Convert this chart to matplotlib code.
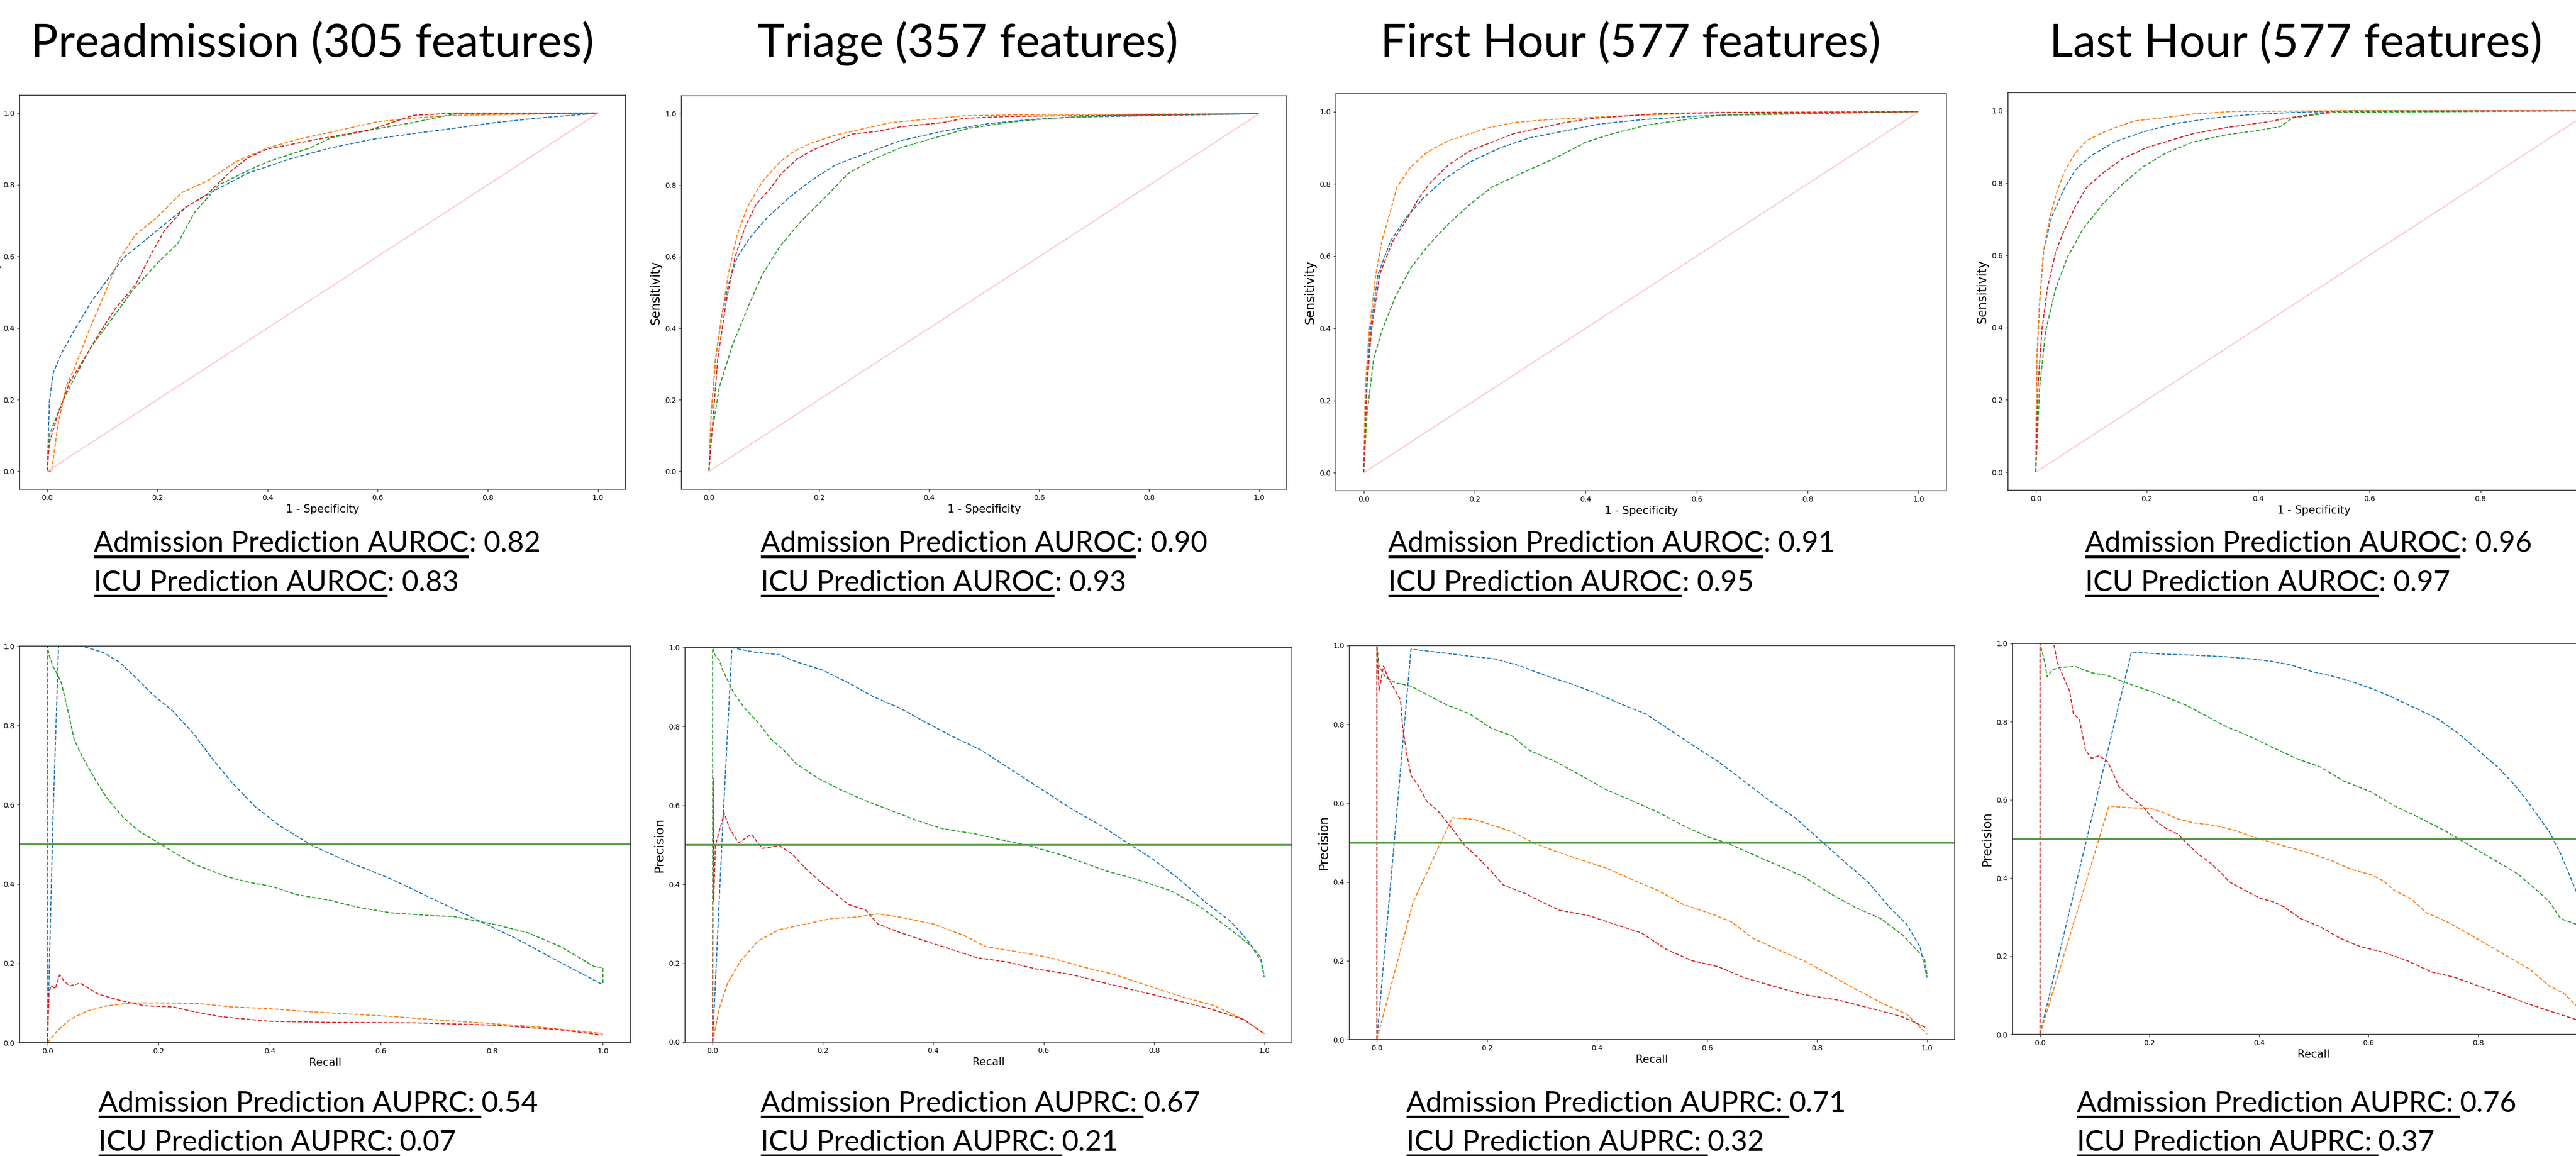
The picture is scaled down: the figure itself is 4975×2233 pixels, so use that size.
import matplotlib
matplotlib.use("Agg")
import matplotlib.pyplot as plt
from matplotlib.lines import Line2D

W, H = 4975, 2233

stages = ["Preadmission (305 features)", "Triage (357 features)",
          "First Hour (577 features)", "Last Hour (577 features)"]
auroc_adm = [0.82, 0.90, 0.91, 0.96]
auroc_icu = [0.83, 0.93, 0.95, 0.97]
auprc_adm = [0.54, 0.67, 0.71, 0.76]
auprc_icu = [0.07, 0.21, 0.32, 0.37]

# ---- ROC curves (1 - specificity, sensitivity) ----
pre_roc_adm_a = [(0, 0), (0.004, 0.196), (0.011, 0.275), (0.026, 0.33), (0.049, 0.393), (0.079, 0.471),
                 (0.109, 0.534), (0.139, 0.597), (0.177, 0.644), (0.214, 0.691), (0.252, 0.738),
                 (0.305, 0.785), (0.365, 0.833), (0.44, 0.872), (0.515, 0.903), (0.59, 0.927),
                 (0.665, 0.943), (0.74, 0.958), (0.816, 0.974), (0.89, 0.986), (1, 1)]
pre_roc_icu_a = [(0, 0), (0.008, 0), (0.019, 0.126), (0.034, 0.236), (0.05, 0.29), (0.075, 0.39),
                 (0.1, 0.48), (0.13, 0.59), (0.16, 0.66), (0.2, 0.71), (0.244, 0.778), (0.29, 0.81),
                 (0.342, 0.864), (0.4, 0.903), (0.455, 0.927), (0.515, 0.947), (0.6, 0.976),
                 (0.665, 0.986), (0.74, 0.994), (1, 1)]
pre_roc_adm_b = [(0, 0), (0.004, 0.102), (0.026, 0.189), (0.049, 0.259), (0.079, 0.346), (0.109, 0.408),
                 (0.154, 0.503), (0.2, 0.581), (0.237, 0.636), (0.267, 0.722), (0.312, 0.8),
                 (0.365, 0.84), (0.4, 0.864), (0.477, 0.903), (0.515, 0.931), (0.59, 0.954),
                 (0.665, 0.974), (0.74, 0.998), (1, 1)]
pre_roc_icu_b = [(0, 0), (0.004, 0.08), (0.019, 0.157), (0.041, 0.25), (0.064, 0.306), (0.094, 0.384),
                 (0.124, 0.455), (0.16, 0.52), (0.19, 0.61), (0.214, 0.675), (0.252, 0.738),
                 (0.29, 0.773), (0.335, 0.84), (0.365, 0.876), (0.4, 0.9), (0.477, 0.923),
                 (0.59, 0.955), (0.665, 0.994), (0.74, 1.0), (1, 1)]

tri_roc_adm_a = [(0, 0), (0.004, 0.157), (0.012, 0.314), (0.023, 0.432), (0.035, 0.519), (0.051, 0.597),
                 (0.074, 0.652), (0.105, 0.708), (0.144, 0.763), (0.183, 0.81), (0.23, 0.857),
                 (0.284, 0.888), (0.347, 0.924), (0.425, 0.951), (0.503, 0.971), (0.58, 0.983),
                 (0.659, 0.99), (1, 1)]
tri_roc_icu_a = [(0, 0), (0.004, 0.157), (0.012, 0.314), (0.023, 0.432), (0.035, 0.55), (0.051, 0.66),
                 (0.07, 0.739), (0.097, 0.81), (0.129, 0.865), (0.152, 0.892), (0.183, 0.916),
                 (0.23, 0.94), (0.284, 0.959), (0.331, 0.975), (0.386, 0.983), (0.464, 0.994),
                 (0.58, 0.997), (1, 1)]
tri_roc_adm_b = [(0, 0), (0.004, 0.094), (0.019, 0.236), (0.043, 0.354), (0.074, 0.47), (0.097, 0.55),
                 (0.129, 0.629), (0.168, 0.7), (0.214, 0.77), (0.253, 0.833), (0.3, 0.873),
                 (0.347, 0.904), (0.409, 0.932), (0.472, 0.959), (0.542, 0.975), (0.62, 0.987),
                 (0.737, 0.995), (1, 1)]
tri_roc_icu_b = [(0, 0), (0.004, 0.079), (0.016, 0.314), (0.031, 0.47), (0.047, 0.597), (0.066, 0.684),
                 (0.086, 0.747), (0.109, 0.786), (0.132, 0.833), (0.16, 0.873), (0.191, 0.9),
                 (0.23, 0.924), (0.261, 0.943), (0.308, 0.951), (0.347, 0.963), (0.425, 0.975),
                 (0.464, 0.987), (0.542, 0.992), (1, 1)]

fh_roc_adm_a = [(0, 0), (0.005, 0.238), (0.012, 0.394), (0.026, 0.55), (0.049, 0.643), (0.076, 0.705),
                (0.107, 0.76), (0.146, 0.814), (0.192, 0.861), (0.246, 0.9), (0.3, 0.928),
                (0.363, 0.947), (0.425, 0.966), (0.502, 0.978), (0.603, 0.988), (0.719, 0.995), (1, 1)]
fh_roc_icu_a = [(0, 0), (0.003, 0.238), (0.01, 0.394), (0.022, 0.55), (0.033, 0.643), (0.049, 0.729),
                (0.06, 0.791), (0.084, 0.846), (0.115, 0.889), (0.153, 0.92), (0.192, 0.939),
                (0.223, 0.955), (0.27, 0.97), (0.332, 0.978), (0.409, 0.984), (0.486, 0.99),
                (0.641, 0.997), (1, 1)]
fh_roc_adm_b = [(0, 0), (0.006, 0.16), (0.018, 0.316), (0.033, 0.394), (0.057, 0.487), (0.084, 0.565),
                (0.115, 0.627), (0.153, 0.69), (0.192, 0.744), (0.231, 0.791), (0.285, 0.83),
                (0.347, 0.873), (0.401, 0.916), (0.448, 0.939), (0.51, 0.963), (0.579, 0.978),
                (0.641, 0.99), (1, 1)]
fh_roc_icu_b = [(0, 0), (0.006, 0.238), (0.014, 0.394), (0.029, 0.55), (0.053, 0.643), (0.076, 0.697),
                (0.099, 0.76), (0.122, 0.807), (0.153, 0.853), (0.192, 0.892), (0.231, 0.916),
                (0.27, 0.939), (0.316, 0.955), (0.363, 0.97), (0.409, 0.981), (0.533, 0.995),
                (0.641, 0.998), (1, 1)]

lh_roc_adm_a = [(0, 0), (0.002, 0.315), (0.007, 0.471), (0.014, 0.611), (0.028, 0.704), (0.05, 0.781),
                (0.071, 0.836), (0.099, 0.875), (0.142, 0.914), (0.192, 0.941), (0.249, 0.964),
                (0.32, 0.98), (0.391, 0.99), (0.462, 0.995), (0.568, 1.0), (1, 1)]
lh_roc_icu_a = [(0, 0), (0.002, 0.315), (0.007, 0.471), (0.014, 0.611), (0.025, 0.704), (0.039, 0.781),
                (0.053, 0.836), (0.071, 0.883), (0.092, 0.918), (0.128, 0.945), (0.178, 0.972),
                (0.227, 0.98), (0.284, 0.991), (0.355, 0.998), (0.568, 1.0), (1, 1)]
lh_roc_adm_b = [(0, 0), (0.007, 0.237), (0.018, 0.393), (0.036, 0.509), (0.057, 0.595), (0.085, 0.673),
                (0.121, 0.743), (0.156, 0.797), (0.192, 0.844), (0.234, 0.883), (0.284, 0.914),
                (0.341, 0.933), (0.398, 0.945), (0.44, 0.956), (0.462, 0.98), (0.533, 0.995), (1, 1)]
lh_roc_icu_b = [(0, 0), (0.004, 0.237), (0.011, 0.393), (0.021, 0.509), (0.036, 0.61), (0.05, 0.665),
                (0.071, 0.735), (0.092, 0.789), (0.121, 0.828), (0.156, 0.867), (0.199, 0.898),
                (0.242, 0.918), (0.284, 0.937), (0.341, 0.953), (0.412, 0.968), (0.455, 0.98),
                (0.533, 0.998), (1, 1)]

# ---- PR curves (recall, precision) ----
pre_pr_adm_a = [(0, 0), (0.01, 0.567), (0.02, 1.0), (0.062, 1.0), (0.1, 0.984), (0.129, 0.96),
                (0.159, 0.921), (0.189, 0.878), (0.226, 0.836), (0.263, 0.779), (0.293, 0.723),
                (0.33, 0.659), (0.374, 0.595), (0.419, 0.546), (0.478, 0.496), (0.545, 0.454),
                (0.62, 0.412), (0.694, 0.362), (0.768, 0.313), (0.843, 0.263), (0.917, 0.207),
                (1.0, 0.146)]
pre_pr_icu_a = [(0, 0), (0.018, 0.03), (0.04, 0.058), (0.07, 0.079), (0.107, 0.093), (0.152, 0.1),
                (0.211, 0.1), (0.27, 0.099), (0.33, 0.09), (0.397, 0.086), (0.471, 0.078),
                (0.545, 0.072), (0.62, 0.066), (0.694, 0.058), (0.768, 0.051), (0.88, 0.04),
                (1.0, 0.023)]
pre_pr_adm_b = [(0, 0), (0, 1.0), (0.003, 0.977), (0.01, 0.949), (0.018, 0.928), (0.025, 0.907),
                (0.036, 0.843), (0.048, 0.765), (0.062, 0.723), (0.085, 0.666), (0.107, 0.617),
                (0.137, 0.567), (0.166, 0.532), (0.2, 0.504), (0.233, 0.475), (0.27, 0.447),
                (0.322, 0.419), (0.36, 0.405), (0.404, 0.394), (0.449, 0.373), (0.508, 0.359),
                (0.56, 0.341), (0.62, 0.327), (0.694, 0.32), (0.731, 0.318), (0.805, 0.298),
                (0.865, 0.277), (0.924, 0.242), (0.984, 0.192), (1.0, 0.189), (1.0, 0.15)]
pre_pr_icu_b = [(0, 0), (0.003, 0.129), (0.007, 0.143), (0.014, 0.136), (0.022, 0.171), (0.029, 0.157),
                (0.04, 0.143), (0.059, 0.15), (0.092, 0.122), (0.129, 0.107), (0.174, 0.093),
                (0.226, 0.09), (0.27, 0.076), (0.315, 0.065), (0.397, 0.054), (0.508, 0.051),
                (0.657, 0.05), (0.805, 0.044), (0.917, 0.033), (1.0, 0.019)]

tri_pr_adm_a = [(0, 0), (0.019, 0.569), (0.035, 1.0), (0.074, 0.989), (0.121, 0.982), (0.152, 0.964),
                (0.199, 0.943), (0.246, 0.911), (0.292, 0.875), (0.339, 0.847), (0.386, 0.811),
                (0.433, 0.776), (0.487, 0.74), (0.542, 0.69), (0.596, 0.641), (0.651, 0.591),
                (0.705, 0.548), (0.752, 0.505), (0.799, 0.463), (0.846, 0.413), (0.892, 0.356),
                (0.939, 0.306), (0.971, 0.256), (0.994, 0.206), (1.0, 0.164)]
tri_pr_icu_a = [(0, 0), (0.012, 0.085), (0.027, 0.149), (0.051, 0.206), (0.082, 0.256), (0.121, 0.285),
                (0.168, 0.299), (0.214, 0.313), (0.261, 0.317), (0.3, 0.325), (0.339, 0.317),
                (0.401, 0.299), (0.456, 0.27), (0.495, 0.242), (0.557, 0.228), (0.612, 0.214),
                (0.667, 0.192), (0.729, 0.171), (0.791, 0.142), (0.853, 0.114), (0.908, 0.093),
                (0.963, 0.057), (1.0, 0.021)]
tri_pr_adm_b = [(0, 0), (0, 1.0), (0.004, 0.982), (0.012, 0.968), (0.019, 0.94), (0.027, 0.918),
                (0.039, 0.883), (0.058, 0.847), (0.082, 0.811), (0.105, 0.769), (0.129, 0.74),
                (0.152, 0.705), (0.191, 0.669), (0.23, 0.641), (0.277, 0.612), (0.316, 0.591),
                (0.37, 0.562), (0.417, 0.541), (0.479, 0.527), (0.526, 0.512), (0.573, 0.498),
                (0.643, 0.47), (0.713, 0.434), (0.768, 0.413), (0.83, 0.384), (0.885, 0.342),
                (0.939, 0.285), (0.978, 0.242), (0.994, 0.214), (1.0, 0.164)]
tri_pr_icu_b = [(0, 0), (0.001, 0.669), (0.002, 0.356), (0.005, 0.498), (0.012, 0.534), (0.021, 0.58),
                (0.031, 0.541), (0.047, 0.505), (0.07, 0.527), (0.09, 0.491), (0.121, 0.498),
                (0.144, 0.477), (0.168, 0.441), (0.199, 0.402), (0.222, 0.377), (0.246, 0.349),
                (0.277, 0.335), (0.3, 0.299), (0.339, 0.278), (0.386, 0.256), (0.433, 0.235),
                (0.479, 0.214), (0.534, 0.203), (0.588, 0.185), (0.651, 0.171), (0.713, 0.149),
                (0.775, 0.128), (0.838, 0.107), (0.9, 0.085), (0.963, 0.057), (1.0, 0.021)]

fh_pr_adm_a = [(0, 0), (0.031, 0.492), (0.062, 0.991), (0.129, 0.98), (0.168, 0.973), (0.215, 0.966),
               (0.261, 0.948), (0.308, 0.923), (0.355, 0.902), (0.402, 0.877), (0.448, 0.849),
               (0.488, 0.827), (0.527, 0.791), (0.573, 0.748), (0.62, 0.706), (0.667, 0.656),
               (0.714, 0.606), (0.76, 0.563), (0.8, 0.513), (0.846, 0.456), (0.893, 0.399),
               (0.932, 0.335), (0.963, 0.292), (0.987, 0.235), (1.0, 0.157)]
fh_pr_icu_a = [(0, 0), (0.066, 0.349), (0.137, 0.563), (0.176, 0.559), (0.215, 0.542), (0.246, 0.527),
               (0.285, 0.499), (0.324, 0.478), (0.371, 0.456), (0.417, 0.435), (0.464, 0.406),
               (0.511, 0.378), (0.558, 0.342), (0.604, 0.321), (0.644, 0.299), (0.683, 0.257),
               (0.729, 0.228), (0.776, 0.2), (0.823, 0.164), (0.87, 0.128), (0.917, 0.093),
               (0.963, 0.064), (1.0, 0.014)]
fh_pr_adm_b = [(0, 0), (0, 1.0), (0.004, 0.948), (0.016, 0.919), (0.035, 0.905), (0.062, 0.897),
               (0.09, 0.876), (0.129, 0.848), (0.168, 0.827), (0.207, 0.791), (0.246, 0.77),
               (0.277, 0.734), (0.324, 0.706), (0.371, 0.67), (0.417, 0.634), (0.464, 0.606),
               (0.511, 0.577), (0.558, 0.542), (0.604, 0.513), (0.636, 0.499), (0.683, 0.47),
               (0.729, 0.442), (0.776, 0.413), (0.823, 0.371), (0.87, 0.335), (0.917, 0.306),
               (0.956, 0.264), (0.995, 0.207), (1.0, 0.164)]
fh_pr_icu_b = [(0, 0), (0, 0.998), (0.004, 0.884), (0.012, 0.948), (0.02, 0.919), (0.031, 0.891),
               (0.043, 0.862), (0.047, 0.791), (0.055, 0.72), (0.062, 0.67), (0.074, 0.648),
               (0.09, 0.606), (0.113, 0.577), (0.137, 0.535), (0.16, 0.492), (0.183, 0.463),
               (0.207, 0.428), (0.23, 0.392), (0.269, 0.371), (0.3, 0.349), (0.332, 0.328),
               (0.386, 0.314), (0.433, 0.292), (0.48, 0.271), (0.527, 0.228), (0.573, 0.2),
               (0.62, 0.185), (0.667, 0.157), (0.722, 0.135), (0.776, 0.114), (0.839, 0.1),
               (0.901, 0.078), (0.956, 0.057), (1.0, 0.029)]

lh_pr_adm_a = [(0, 0), (0.167, 0.978), (0.223, 0.973), (0.281, 0.97), (0.339, 0.966), (0.382, 0.961),
               (0.425, 0.954), (0.461, 0.944), (0.497, 0.928), (0.541, 0.914), (0.569, 0.903),
               (0.605, 0.885), (0.641, 0.864), (0.685, 0.835), (0.728, 0.806), (0.764, 0.77),
               (0.8, 0.727), (0.836, 0.684), (0.865, 0.641), (0.886, 0.605), (0.908, 0.562),
               (0.93, 0.519), (0.951, 0.462), (0.979, 0.368), (0.99, 0.28), (1.0, 0.16)]
lh_pr_icu_a = [(0, 0), (0.126, 0.584), (0.159, 0.58), (0.202, 0.578), (0.223, 0.569), (0.252, 0.551),
               (0.281, 0.541), (0.317, 0.535), (0.353, 0.523), (0.389, 0.505), (0.425, 0.49),
               (0.461, 0.476), (0.497, 0.462), (0.533, 0.444), (0.569, 0.422), (0.605, 0.408),
               (0.627, 0.393), (0.648, 0.368), (0.677, 0.347), (0.706, 0.311), (0.742, 0.289),
               (0.778, 0.261), (0.814, 0.232), (0.858, 0.196), (0.894, 0.167), (0.93, 0.124),
               (0.959, 0.103), (0.979, 0.074), (1.0, 0.03)]
lh_pr_adm_b = [(0, 0), (0, 1.0), (0.004, 0.978), (0.009, 0.95), (0.013, 0.914), (0.022, 0.932),
               (0.036, 0.939), (0.065, 0.941), (0.094, 0.925), (0.123, 0.918), (0.151, 0.903),
               (0.187, 0.885), (0.223, 0.867), (0.267, 0.842), (0.295, 0.821), (0.339, 0.788),
               (0.382, 0.763), (0.425, 0.734), (0.468, 0.706), (0.512, 0.684), (0.555, 0.648),
               (0.605, 0.62), (0.648, 0.584), (0.692, 0.555), (0.742, 0.519), (0.785, 0.483),
               (0.829, 0.447), (0.872, 0.411), (0.908, 0.368), (0.93, 0.34), (0.951, 0.296),
               (0.979, 0.282), (1.0, 0.21)]
lh_pr_icu_b = [(0, 0), (0, 1.0), (0.025, 1.0), (0.032, 0.95), (0.043, 0.914), (0.054, 0.878),
               (0.061, 0.82), (0.072, 0.806), (0.083, 0.727), (0.094, 0.706), (0.108, 0.713),
               (0.123, 0.698), (0.133, 0.67), (0.144, 0.634), (0.166, 0.605), (0.187, 0.584),
               (0.209, 0.548), (0.231, 0.526), (0.252, 0.512), (0.267, 0.49), (0.288, 0.462),
               (0.31, 0.44), (0.332, 0.411), (0.346, 0.39), (0.375, 0.368), (0.404, 0.347),
               (0.425, 0.34), (0.447, 0.325), (0.476, 0.296), (0.512, 0.275), (0.548, 0.246),
               (0.584, 0.225), (0.627, 0.21), (0.67, 0.189), (0.714, 0.16), (0.757, 0.146),
               (0.8, 0.124), (0.843, 0.103), (0.886, 0.081), (0.93, 0.06), (0.979, 0.038),
               (1.0, 0.02)]

roc_curves = [
    [pre_roc_adm_a, pre_roc_icu_a, pre_roc_adm_b, pre_roc_icu_b],
    [tri_roc_adm_a, tri_roc_icu_a, tri_roc_adm_b, tri_roc_icu_b],
    [fh_roc_adm_a, fh_roc_icu_a, fh_roc_adm_b, fh_roc_icu_b],
    [lh_roc_adm_a, lh_roc_icu_a, lh_roc_adm_b, lh_roc_icu_b],
]
pr_curves = [
    [pre_pr_adm_a, pre_pr_icu_a, pre_pr_adm_b, pre_pr_icu_b],
    [tri_pr_adm_a, tri_pr_icu_a, tri_pr_adm_b, tri_pr_icu_b],
    [fh_pr_adm_a, fh_pr_icu_a, fh_pr_adm_b, fh_pr_icu_b],
    [lh_pr_adm_a, lh_pr_icu_a, lh_pr_adm_b, lh_pr_icu_b],
]

# panel boxes in pixels of the final image: (x0, y0, x1, y1), y measured from the top
roc_boxes = [(38, 184, 1208, 945), (1316, 185, 2485, 945), (2580, 181, 3759, 948), (3878, 179, 5059, 947)]
pr_boxes = [(38, 1248, 1218, 2014), (1323, 1251, 2495, 2013), (2606, 1247, 3775, 2008), (3887, 1243, 5050, 1998)]
title_x = [603, 1869, 3149, 4434]
roc_cap_x = [181, 1469, 2681, 4027]
pr_cap_x = [190, 1469, 2716, 4011]

colors = ["tab:blue", "tab:orange", "tab:green", "tab:red"]
TXT_FONT = ["Lato", "DejaVu Sans"]


def px_rect(b):
    x0, y0, x1, y1 = b
    return [x0 / W, 1 - y1 / H, (x1 - x0) / W, (y1 - y0) / H]


def style(ax):
    for s in ax.spines.values():
        s.set_linewidth(1.2)
        s.set_color("#333333")
    ax.tick_params(labelsize=10, width=1.0, color="#333333")
    ax.set_xticks([0, 0.2, 0.4, 0.6, 0.8, 1.0])
    ax.set_yticks([0, 0.2, 0.4, 0.6, 0.8, 1.0])


fig = plt.figure(figsize=(W / 100, H / 100), dpi=100)

for i in range(4):
    ax = fig.add_axes(px_rect(roc_boxes[i]))
    for c, col in zip(roc_curves[i], colors):
        ax.plot([p[0] for p in c], [p[1] for p in c], "--", color=col, lw=1.5)
    ax.plot([0, 1], [0, 1], color="pink", lw=1.4)
    ax.set_xlim(-0.05, 1.05)
    ax.set_ylim(-0.05, 1.05)
    ax.set_xlabel("1 - Specificity", fontsize=15)
    ax.set_ylabel("Sensitivity", fontsize=17)
    style(ax)

    ax = fig.add_axes(px_rect(pr_boxes[i]))
    for c, col in zip(pr_curves[i], colors):
        ax.plot([p[0] for p in c], [p[1] for p in c], "--", color=col, lw=1.5)
    ax.axhline(0.5, color="#4e9a3d", lw=2.6)
    ax.set_xlim(-0.05, 1.05)
    ax.set_ylim(0, 1)
    ax.set_xlabel("Recall", fontsize=15)
    ax.set_ylabel("Precision", fontsize=17)
    style(ax)

for i, t in enumerate(stages):
    fig.text(title_x[i] / W, 1 - 110 / H, t, ha="center", va="baseline",
             fontsize=64, family=TXT_FONT)

fig.canvas.draw()
rend = fig.canvas.get_renderer()
CAP_FS = 40


def caption(x_px, base_px, under, rest, space_after=False):
    y = 1 - base_px / H
    t = fig.text(x_px / W, y, under, fontsize=CAP_FS, family=TXT_FONT, va="baseline")
    bb = t.get_window_extent(renderer=rend)
    end = bb.x1 + (12 if space_after else 0)
    fig.text((end + (0 if space_after else 1)) / W, y, rest, fontsize=CAP_FS,
             family=TXT_FONT, va="baseline")
    fig.add_artist(Line2D([bb.x0 / W, end / W], [y - 9 / H, y - 9 / H],
                          color="black", lw=3.6, solid_capstyle="butt"))


for i in range(4):
    caption(roc_cap_x[i], 1066, "Admission Prediction AUROC", f": {auroc_adm[i]:.2f}")
    caption(roc_cap_x[i], 1142, "ICU Prediction AUROC", f": {auroc_icu[i]:.2f}")
    caption(pr_cap_x[i], 2148, "Admission Prediction AUPRC:", f"{auprc_adm[i]:.2f}", True)
    caption(pr_cap_x[i], 2223, "ICU Prediction AUPRC:", f"{auprc_icu[i]:.2f}", True)

fig.savefig("out.png", dpi=100, facecolor="white")
